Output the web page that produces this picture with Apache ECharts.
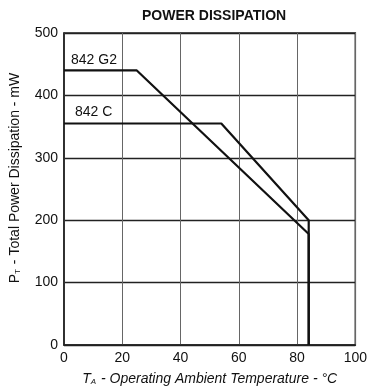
<!DOCTYPE html>
<html>
<head>
<meta charset="utf-8">
<script src="https://cdn.jsdelivr.net/npm/echarts@6/dist/echarts.min.js"></script>
<style>
html,body{margin:0;padding:0;background:#fff;}
#c{width:370px;height:392px;}
</style>
</head>
<body>
<div id="c"></div>
<script>
// Data
var titleText = 'POWER DISSIPATION';
var xTicks = [0, 20, 40, 60, 80, 100];
var yTicks = [0, 100, 200, 300, 400, 500];
var g2Name = '842 G2';
var g2Temp = [0, 25, 84, 84];
var g2Power = [440, 440, 178, 0];
var cName = '842 C';
var cTemp = [0, 54, 84, 84];
var cPower = [355, 355, 200, 0];

var FONT = 'Liberation Sans, Arial, sans-serif';

function buildData(xs, ys, name, offset) {
  return xs.map(function (x, i) {
    var d = { value: [x, ys[i]] };
    if (i === 0) {
      d.label = {
        show: true, position: 'right', offset: offset,
        formatter: name, color: '#111', fontSize: 14, fontFamily: FONT
      };
    }
    return d;
  });
}

var chart = echarts.init(document.getElementById('c'), null, { renderer: 'canvas' });
chart.setOption({
  backgroundColor: '#fff',
  animation: false,
  title: {
    text: titleText, left: 137, top: 4,
    textStyle: { fontSize: 14, fontWeight: 'bold', color: '#111', fontFamily: FONT }
  },
  grid: { left: 63, right: 11, top: 33, bottom: 47, show: true, borderColor: '#222', borderWidth: 1.5 },
  xAxis: {
    type: 'value', min: xTicks[0], max: xTicks[xTicks.length - 1], interval: xTicks[1] - xTicks[0],
    name: '{i|T}{s|A}{i| - Operating Ambient Temperature - °C}',
    nameLocation: 'middle', nameGap: 27,
    nameTextStyle: {
      rich: {
        i: { fontSize: 14, fontStyle: 'italic', color: '#111', fontFamily: FONT },
        s: { fontSize: 8, fontStyle: 'italic', color: '#111', fontFamily: FONT, verticalAlign: 'bottom', padding: [4, 1, 0, 0] }
      }
    },
    axisLine: { show: true, lineStyle: { color: '#222', width: 1.5 } },
    axisTick: { show: false },
    axisLabel: { color: '#111', fontSize: 14, margin: 6, fontFamily: FONT },
    splitLine: { show: true, lineStyle: { color: '#666', width: 1 } }
  },
  yAxis: {
    type: 'value', min: yTicks[0], max: yTicks[yTicks.length - 1], interval: yTicks[1] - yTicks[0],
    name: '{n|P}{s|T}{n| - Total Power Dissipation - mW}',
    nameLocation: 'middle', nameGap: 42,
    nameTextStyle: {
      padding: [0, 0, 0, 22],
      rich: {
        n: { fontSize: 14, color: '#111', fontFamily: FONT },
        s: { fontSize: 8, color: '#111', fontFamily: FONT, verticalAlign: 'bottom', padding: [4, 1, 0, 0] }
      }
    },
    axisLine: { show: true, lineStyle: { color: '#222', width: 1.5 } },
    axisTick: { show: false },
    axisLabel: { color: '#111', fontSize: 14, margin: 6, fontFamily: FONT },
    splitLine: { show: true, lineStyle: { color: '#222', width: 1.3 } }
  },
  series: [
    {
      name: g2Name, type: 'line', symbol: 'circle', symbolSize: 0, showSymbol: true,
      lineStyle: { color: '#111', width: 2.2 },
      data: buildData(g2Temp, g2Power, g2Name, [2, -10])
    },
    {
      name: cName, type: 'line', symbol: 'circle', symbolSize: 0, showSymbol: true,
      lineStyle: { color: '#111', width: 2.2 },
      data: buildData(cTemp, cPower, cName, [6, -11])
    }
  ]
});
</script>
</body>
</html>
